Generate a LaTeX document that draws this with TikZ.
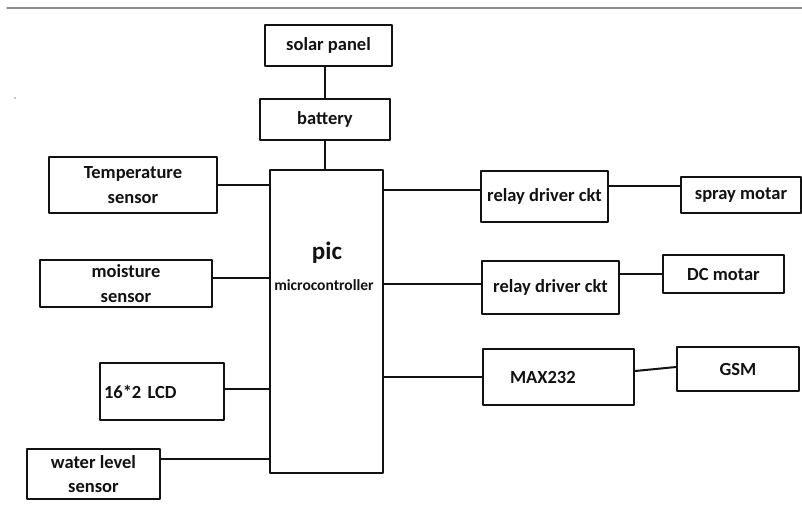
\documentclass[tikz,border=0pt]{standalone}
\usepackage{fontspec}
\setmainfont{Carlito}
\usetikzlibrary{positioning}
\definecolor{blkInk}{HTML}{121212}
\definecolor{ruleGray}{HTML}{8C8C8C}

\begin{document}
\begin{tikzpicture}[x=1pt,y=-1pt,line cap=round,line join=round]
\useasboundingbox (0,0) rectangle (802,515);
\path[fill=white] (0,0) rectangle (802,515);
\draw[ruleGray,line width=1.2pt] (7,8) -- (802,8);
\fill[ruleGray] (15,98) circle (0.8pt);
\tikzset{blk/.style={draw=blkInk,line width=2pt,inner sep=0pt,align=center,text=blkInk,font=\bfseries\fontsize{18.5}{24.5}\selectfont},wire/.style={draw=blkInk,line width=2pt}}
% power
\node[blk,minimum width=127pt,minimum height=41pt] (solar) at (328.5,45.5) {solar panel};
\node[blk,minimum width=130pt,minimum height=41pt] (battery) at (325,119.5) {battery};
% controller
\node[blk,minimum width=113pt,minimum height=303pt] (pic) at (326.5,321.5) {};
\node[text=blkInk,font=\bfseries\fontsize{25}{26}\selectfont] (picT) at (327,253) {pic};
\node[text=blkInk,font=\bfseries\fontsize{15.5}{17}\selectfont] (mcuT) at (324,285) {microcontroller};
% inputs
\node[blk,minimum width=168pt,minimum height=56pt] (temp) at (133,185) {Temperature\\sensor};
\node[blk,minimum width=172pt,minimum height=47pt] (moist) at (126,283.5) {moisture\\sensor};
\node[blk,minimum width=124pt,minimum height=57pt,text width=116pt,align=left,inner sep=4pt] (lcd) at (162,391.5) {16*2 LCD};
\node[blk,minimum width=133pt,minimum height=50pt] (water) at (93.5,474) {water level\\sensor};
% outputs
\node[blk,minimum width=127pt,minimum height=51pt] (relayA) at (544.5,196.5) {relay driver ckt};
\node[blk,minimum width=120pt,minimum height=36pt] (spray) at (741,195) {spray motar};
\node[blk,minimum width=137pt,minimum height=53pt] (relayB) at (550.5,287.5) {relay driver ckt};
\node[blk,minimum width=121pt,minimum height=38pt] (dcm) at (723.5,274) {DC motar};
\node[blk,minimum width=151pt,minimum height=56pt,text width=123pt,align=left,inner xsep=14pt] (maxc) at (558.5,377) {\hspace*{13pt}MAX232};
\node[blk,minimum width=122pt,minimum height=44pt] (gsm) at (738,369) {GSM};
% links
\draw[wire] (solar.south -| battery.north) -- (battery.north);
\draw[wire] (battery.south) -- (battery.south |- pic.north);
\draw[wire] (temp.east) -- (temp.east -| pic.west);
\draw[wire] ([yshift=6pt]moist.east) -- ([yshift=6pt]moist.east -| pic.west);
\draw[wire] ([yshift=3pt]lcd.east) -- ([yshift=3pt]lcd.east -| pic.west);
\draw[wire] ([yshift=15pt]water.east) -- ([yshift=15pt]water.east -| pic.west);
\draw[wire] ([yshift=7pt]relayA.west -| pic.east) -- ([yshift=7pt]relayA.west);
\draw[wire] ([yshift=9pt]spray.west -| relayA.east) -- ([yshift=9pt]spray.west);
\draw[wire] ([yshift=4pt]relayB.west -| pic.east) -- ([yshift=4pt]relayB.west);
\draw[wire] (dcm.west -| relayB.east) -- (dcm.west);
\draw[wire] (maxc.west -| pic.east) -- (maxc.west);
\draw[wire] ([yshift=6pt]maxc.east) -- ([yshift=2pt]gsm.west);
\end{tikzpicture}
\end{document}
